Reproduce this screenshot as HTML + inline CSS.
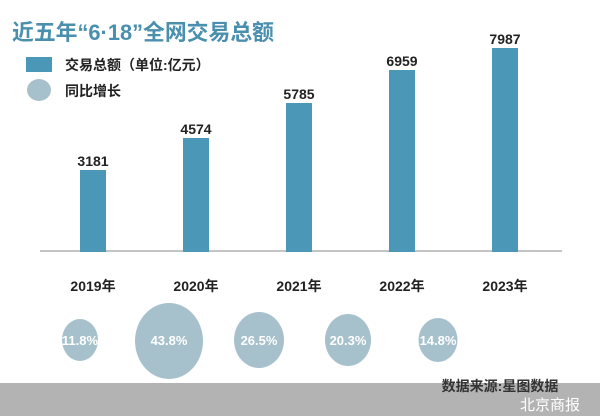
<!DOCTYPE html>
<html><head><meta charset="utf-8"><style>
body{margin:0;width:600px;height:416px;overflow:hidden;background:#fff;font-family:"Liberation Sans","Noto Sans CJK SC",sans-serif}
</style></head><body>
<svg width="600" height="416" xmlns="http://www.w3.org/2000/svg" style="position:absolute;left:0;top:0">
<text x="12" y="40" font-size="22" font-weight="bold" fill="#4a8fae" textLength="262" lengthAdjust="spacingAndGlyphs" font-family="Liberation Sans,Noto Sans CJK SC,sans-serif">近五年“6·18”全网交易总额</text>
<rect x="26" y="57" width="26" height="15" fill="#4a97b8"/>
<text x="65" y="70" font-size="14" font-weight="bold" fill="#222" font-family="Liberation Sans,Noto Sans CJK SC,sans-serif">交易总额（单位:亿元）</text>
<ellipse cx="39" cy="90" rx="12" ry="11" fill="#a7c1cc"/>
<text x="65" y="96" font-size="14" font-weight="bold" fill="#222" font-family="Liberation Sans,Noto Sans CJK SC,sans-serif">同比增长</text>
<line x1="40" y1="251" x2="562" y2="251" stroke="#888" stroke-width="1"/>
<g fill="#4a97b8">
<rect x="80" y="170" width="26" height="82"/>
<rect x="183" y="138" width="26" height="114"/>
<rect x="286" y="103" width="26" height="149"/>
<rect x="389" y="70" width="26" height="182"/>
<rect x="492" y="48" width="26" height="204"/>
</g>
<g font-size="14" font-weight="bold" fill="#222" text-anchor="middle" font-family="Liberation Sans,Noto Sans CJK SC,sans-serif">
<text x="93" y="166">3181</text><text x="196" y="134">4574</text><text x="299" y="99">5785</text><text x="402" y="66">6959</text><text x="505" y="44">7987</text>
<text x="93" y="291">2019年</text><text x="196" y="291">2020年</text><text x="299" y="291">2021年</text><text x="402" y="291">2022年</text><text x="505" y="291">2023年</text>
</g>
<g fill="#a7c1cc">
<ellipse cx="80" cy="340" rx="18" ry="21"/>
<ellipse cx="169" cy="341" rx="34" ry="38"/>
<ellipse cx="259" cy="340" rx="25" ry="28"/>
<ellipse cx="348" cy="340" rx="23" ry="26"/>
<ellipse cx="438" cy="340" rx="19.5" ry="22"/>
</g>
<g font-size="13" font-weight="bold" fill="#fff" text-anchor="middle" font-family="Liberation Sans,sans-serif">
<text x="80" y="345">11.8%</text><text x="169" y="345">43.8%</text><text x="259" y="345">26.5%</text><text x="348" y="345">20.3%</text><text x="438" y="345">14.8%</text>
</g>
<rect x="0" y="383" width="600" height="33" fill="#b3b3b3"/>
<text x="500" y="391" font-size="14" font-weight="bold" fill="#333" text-anchor="middle" font-family="Liberation Sans,Noto Sans CJK SC,sans-serif">数据来源:星图数据</text>
<text x="550" y="410" font-size="15" fill="#fff" text-anchor="middle" font-family="Liberation Sans,Noto Sans CJK SC,sans-serif">北京商报</text>
</svg>
</body></html>
